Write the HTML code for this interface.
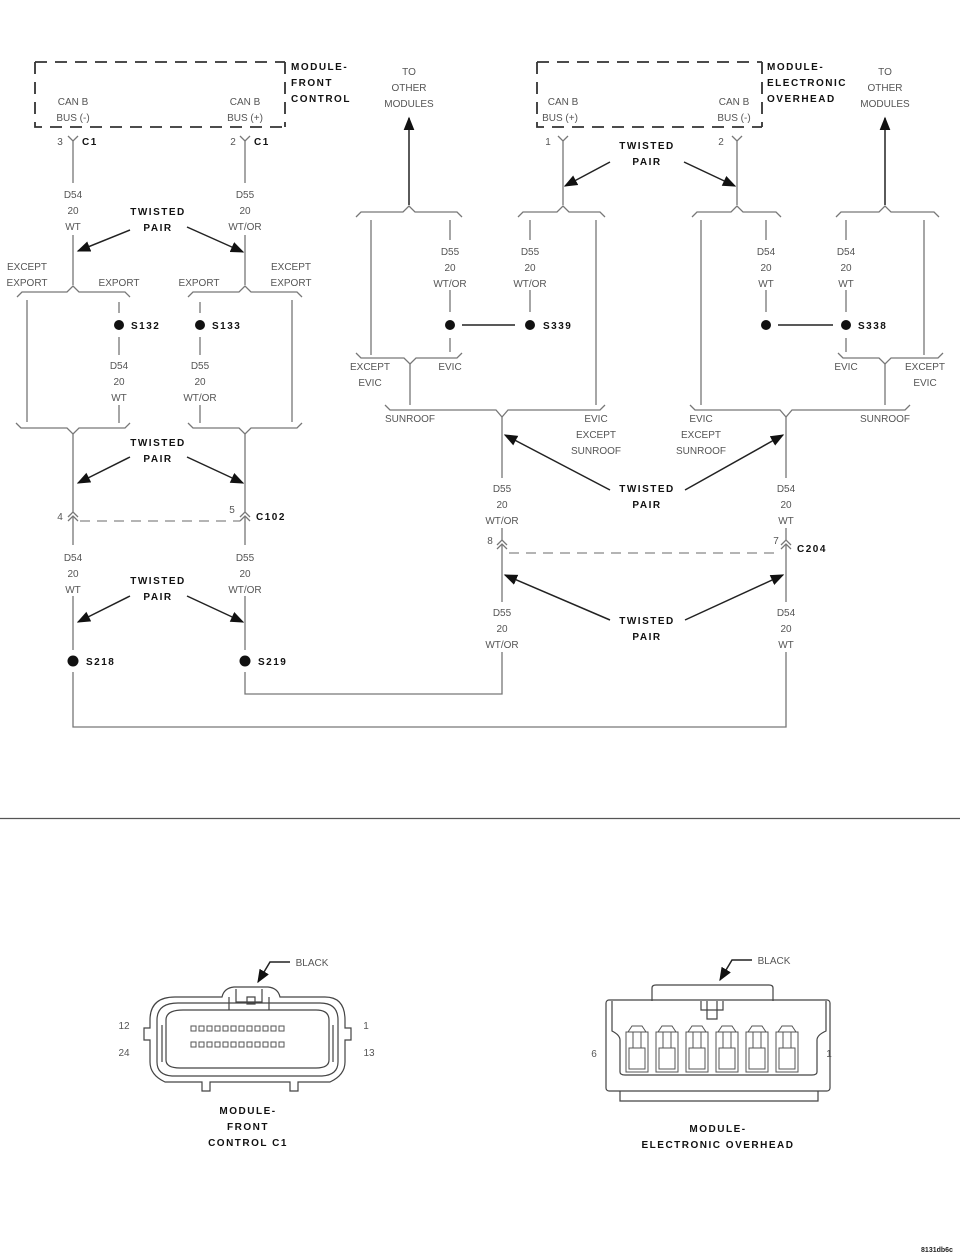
<!DOCTYPE html>
<html><head><meta charset="utf-8"><style>
html,body{margin:0;padding:0;background:#fff}
svg{display:block}
.t{font-family:"Liberation Sans Narrow","Liberation Sans",sans-serif;font-size:10px;fill:#555;text-anchor:middle}
.b{font-family:"Liberation Sans",sans-serif;font-size:10px;font-weight:bold;fill:#111;letter-spacing:1.5px}
.bc{text-anchor:middle}
.w{stroke:#777;stroke-width:1.3;fill:none}
.k{stroke:#222;stroke-width:1.5;fill:none}
.d{stroke:#333;stroke-width:1.8;fill:none;stroke-dasharray:12,8}
.dl{stroke:#888;stroke-width:1.3;fill:none;stroke-dasharray:10,7}
</style></head><body>
<svg width="960" height="1257" viewBox="0 0 960 1257" xmlns="http://www.w3.org/2000/svg">
<defs><marker id="a" viewBox="0 0 10 10" refX="9" refY="5" markerWidth="9" markerHeight="9" orient="auto"><path d="M0,1 L10,5 L0,9 z" fill="#111"/></marker></defs>

<!-- LEFT MODULE -->
<path class="d" d="M35,62 H285 M35,62 V127 H285 M285,62 V127"/>
<text class="b" x="291" y="70">MODULE-</text><text class="b" x="291" y="86">FRONT</text><text class="b" x="291" y="102">CONTROL</text>
<text class="t" x="73" y="105">CAN B</text><text class="t" x="73" y="121">BUS (-)</text>
<text class="t" x="245" y="105">CAN B</text><text class="t" x="245" y="121">BUS (+)</text>
<text class="t" x="60" y="145">3</text><text class="b" x="82" y="145">C1</text>
<text class="t" x="233" y="145">2</text><text class="b" x="254" y="145">C1</text>
<path class="w" d="M68,136 L73,141 L78,136 M240,136 L245,141 L250,136"/>
<path class="w" d="M73,141 V183 M73,235 V285 M245,141 V183 M245,235 V285"/>
<text class="t" x="73" y="198">D54</text><text class="t" x="73" y="214">20</text><text class="t" x="73" y="230">WT</text>
<text class="t" x="245" y="198">D55</text><text class="t" x="245" y="214">20</text><text class="t" x="245" y="230">WT/OR</text>
<text class="b bc" x="158" y="215">TWISTED</text><text class="b bc" x="158" y="231">PAIR</text>
<path class="k" d="M130,230 L78,251" marker-end="url(#a)"/><path class="k" d="M187,227 L243,252" marker-end="url(#a)"/>
<text class="t" x="27" y="270">EXCEPT</text><text class="t" x="27" y="286">EXPORT</text>
<text class="t" x="119" y="286">EXPORT</text><text class="t" x="199" y="286">EXPORT</text>
<text class="t" x="291" y="270">EXCEPT</text><text class="t" x="291" y="286">EXPORT</text>
<path class="w" d="M17,297 L22,292 H67 L73,286 L79,292 H125 L130,297"/>
<path class="w" d="M188,297 L193,292 H239 L245,286 L251,292 H297 L302,297"/>
<path class="w" d="M27,300 V422 M292,300 V422 M119,302 V313 M119,337 V355 M119,405 V423 M200,302 V313 M200,337 V355 M200,405 V423"/>
<circle cx="119" cy="325" r="5" fill="#111"/><circle cx="200" cy="325" r="5" fill="#111"/>
<text class="b" x="131" y="329">S132</text><text class="b" x="212" y="329">S133</text>
<text class="t" x="119" y="369">D54</text><text class="t" x="119" y="385">20</text><text class="t" x="119" y="401">WT</text>
<text class="t" x="200" y="369">D55</text><text class="t" x="200" y="385">20</text><text class="t" x="200" y="401">WT/OR</text>
<path class="w" d="M16,423 L21,428 H67 L73,434 L79,428 H125 L130,423"/>
<path class="w" d="M188,423 L193,428 H239 L245,434 L251,428 H297 L302,423"/>
<text class="b bc" x="158" y="446">TWISTED</text><text class="b bc" x="158" y="462">PAIR</text>
<path class="k" d="M130,457 L78,483" marker-end="url(#a)"/><path class="k" d="M187,457 L243,483" marker-end="url(#a)"/>
<path class="w" d="M73,434 V512 M245,434 V512"/>
<path class="w" d="M68,517 L73,512 L78,517 M68,521 L73,516 L78,521 M240,517 L245,512 L250,517 M240,521 L245,516 L250,521"/>
<text class="t" x="60" y="520">4</text><text class="t" x="232" y="513">5</text><text class="b" x="256" y="520">C102</text>
<path class="dl" d="M80,521 H240"/>
<path class="w" d="M73,516 V545 M73,596 V650 M245,516 V545 M245,596 V650"/>
<text class="t" x="73" y="561">D54</text><text class="t" x="73" y="577">20</text><text class="t" x="73" y="593">WT</text>
<text class="t" x="245" y="561">D55</text><text class="t" x="245" y="577">20</text><text class="t" x="245" y="593">WT/OR</text>
<text class="b bc" x="158" y="584">TWISTED</text><text class="b bc" x="158" y="600">PAIR</text>
<path class="k" d="M130,596 L78,622" marker-end="url(#a)"/><path class="k" d="M187,596 L243,622" marker-end="url(#a)"/>
<circle cx="73" cy="661" r="5.5" fill="#111"/><circle cx="245" cy="661" r="5.5" fill="#111"/>
<text class="b" x="86" y="665">S218</text><text class="b" x="258" y="665">S219</text>
<path class="w" d="M73,672 V727 H786 V652 M245,672 V694 H502 V652"/>

<!-- RIGHT MODULE -->
<path class="d" d="M537,62 H762 M537,62 V127 H762 M762,62 V127"/>
<text class="b" x="767" y="70">MODULE-</text><text class="b" x="767" y="86">ELECTRONIC</text><text class="b" x="767" y="102">OVERHEAD</text>
<text class="t" x="563" y="105">CAN B</text><text class="t" x="560" y="121">BUS (+)</text>
<text class="t" x="734" y="105">CAN B</text><text class="t" x="734" y="121">BUS (-)</text>
<text class="t" x="548" y="145">1</text><text class="t" x="721" y="145">2</text>
<path class="w" d="M558,136 L563,141 L568,136 M732,136 L737,141 L742,136"/>
<path class="w" d="M563,141 V205 M737,141 V205"/>
<text class="b bc" x="647" y="149">TWISTED</text><text class="b bc" x="647" y="165">PAIR</text>
<path class="k" d="M610,162 L565,186" marker-end="url(#a)"/><path class="k" d="M684,162 L735,186" marker-end="url(#a)"/>
<text class="t" x="409" y="75">TO</text><text class="t" x="409" y="91">OTHER</text><text class="t" x="409" y="107">MODULES</text>
<text class="t" x="885" y="75">TO</text><text class="t" x="885" y="91">OTHER</text><text class="t" x="885" y="107">MODULES</text>
<path class="k" d="M409,205 V118" marker-end="url(#a)"/><path class="k" d="M885,205 V118" marker-end="url(#a)"/>
<path class="w" d="M356,217 L361,212 H403 L409,206 L415,212 H457 L462,217"/>
<path class="w" d="M518,217 L523,212 H557 L563,206 L569,212 H600 L605,217"/>
<path class="w" d="M692,217 L697,212 H731 L737,206 L743,212 H776 L781,217"/>
<path class="w" d="M836,217 L841,212 H879 L885,206 L891,212 H934 L939,217"/>
<path class="w" d="M371,220 V355 M596,220 V405 M701,220 V405 M924,220 V355"/>
<path class="w" d="M450,220 V240 M450,290 V312 M450,338 V352 M530,220 V240 M530,290 V312 M766,220 V240 M766,290 V312 M846,220 V240 M846,290 V312 M846,338 V352"/>
<text class="t" x="450" y="255">D55</text><text class="t" x="450" y="271">20</text><text class="t" x="450" y="287">WT/OR</text>
<text class="t" x="530" y="255">D55</text><text class="t" x="530" y="271">20</text><text class="t" x="530" y="287">WT/OR</text>
<text class="t" x="766" y="255">D54</text><text class="t" x="766" y="271">20</text><text class="t" x="766" y="287">WT</text>
<text class="t" x="846" y="255">D54</text><text class="t" x="846" y="271">20</text><text class="t" x="846" y="287">WT</text>
<circle cx="450" cy="325" r="5" fill="#111"/><circle cx="530" cy="325" r="5" fill="#111"/>
<circle cx="766" cy="325" r="5" fill="#111"/><circle cx="846" cy="325" r="5" fill="#111"/>
<path class="k" d="M462,325 H515 M778,325 H833" style="stroke-width:1.5"/>
<text class="b" x="543" y="329">S339</text><text class="b" x="858" y="329">S338</text>
<path class="w" d="M356,353 L361,358 H404 L410,364 L416,358 H457 L462,353"/>
<path class="w" d="M838,353 L843,358 H879 L885,364 L891,358 H938 L943,353"/>
<text class="t" x="370" y="370">EXCEPT</text><text class="t" x="370" y="386">EVIC</text><text class="t" x="450" y="370">EVIC</text>
<text class="t" x="846" y="370">EVIC</text><text class="t" x="925" y="370">EXCEPT</text><text class="t" x="925" y="386">EVIC</text>
<path class="w" d="M410,364 V405 M885,364 V405"/>
<path class="w" d="M385,405 L390,410 H496 L502,417 L508,410 H600 L605,405"/>
<path class="w" d="M690,405 L695,410 H780 L786,417 L792,410 H905 L910,405"/>
<text class="t" x="410" y="422">SUNROOF</text><text class="t" x="885" y="422">SUNROOF</text>
<text class="t" x="596" y="422">EVIC</text><text class="t" x="596" y="438">EXCEPT</text><text class="t" x="596" y="454">SUNROOF</text>
<text class="t" x="701" y="422">EVIC</text><text class="t" x="701" y="438">EXCEPT</text><text class="t" x="701" y="454">SUNROOF</text>
<path class="w" d="M502,417 V478 M786,417 V478 M502,528 V540 M786,528 V540"/>
<text class="b bc" x="647" y="492">TWISTED</text><text class="b bc" x="647" y="508">PAIR</text>
<path class="k" d="M610,490 L505,435" marker-end="url(#a)"/><path class="k" d="M685,490 L783,435" marker-end="url(#a)"/>
<text class="t" x="502" y="492">D55</text><text class="t" x="502" y="508">20</text><text class="t" x="502" y="524">WT/OR</text>
<text class="t" x="786" y="492">D54</text><text class="t" x="786" y="508">20</text><text class="t" x="786" y="524">WT</text>
<path class="w" d="M497,545 L502,540 L507,545 M497,549 L502,544 L507,549 M781,545 L786,540 L791,545 M781,549 L786,544 L791,549"/>
<text class="t" x="490" y="544">8</text><text class="t" x="776" y="544">7</text><text class="b" x="797" y="552">C204</text>
<path class="dl" d="M509,553 H780"/>
<path class="w" d="M502,544 V602 M786,544 V602"/>
<text class="b bc" x="647" y="624">TWISTED</text><text class="b bc" x="647" y="640">PAIR</text>
<path class="k" d="M610,620 L505,575" marker-end="url(#a)"/><path class="k" d="M685,620 L783,575" marker-end="url(#a)"/>
<text class="t" x="502" y="616">D55</text><text class="t" x="502" y="632">20</text><text class="t" x="502" y="648">WT/OR</text>
<text class="t" x="786" y="616">D54</text><text class="t" x="786" y="632">20</text><text class="t" x="786" y="648">WT</text>

<path d="M0,818.5 H960" stroke="#555" stroke-width="1.2"/>

<!-- CONNECTOR 1 -->
<g fill="none" stroke="#444" stroke-width="1.2">
<path d="M175,997 H222 Q224,988 234,987 H268 Q278,988 280,997 H325 Q345,997 345,1020 V1028 H351 V1040 H345 V1062 Q345,1075 330,1082 H298 V1091 H290 V1082 H210 V1091 H202 V1082 H165 Q150,1075 150,1062 V1040 H144 V1028 H150 V1020 Q150,997 175,997 Z"/>
<path d="M178,1003 H320 Q338,1003 338,1020 V1062 Q338,1075 322,1076 H172 Q157,1075 157,1062 V1020 Q157,1003 178,1003 Z"/>
<path d="M183,1010 H316 Q329,1010 329,1020 V1060 Q329,1068 316,1068 H180 Q166,1068 166,1060 V1020 Q166,1010 183,1010 Z"/>
<path d="M229,997 V1010 M269,997 V1010 M236,989 V1002 H262 V989 M247,997 H255 V1004 H247 Z"/>
<path d="M162,1025 V1062 M333,1025 V1062"/>
</g>
<g fill="none" stroke="#555" stroke-width="1">
<path d="M191,1026h5v5h-5zM199,1026h5v5h-5zM207,1026h5v5h-5zM215,1026h5v5h-5zM223,1026h5v5h-5zM231,1026h5v5h-5zM239,1026h5v5h-5zM247,1026h5v5h-5zM255,1026h5v5h-5zM263,1026h5v5h-5zM271,1026h5v5h-5zM279,1026h5v5h-5z"/>
<path d="M191,1042h5v5h-5zM199,1042h5v5h-5zM207,1042h5v5h-5zM215,1042h5v5h-5zM223,1042h5v5h-5zM231,1042h5v5h-5zM239,1042h5v5h-5zM247,1042h5v5h-5zM255,1042h5v5h-5zM263,1042h5v5h-5zM271,1042h5v5h-5zM279,1042h5v5h-5z"/>
</g>
<path class="k" d="M290,962 H270 L258,982" marker-end="url(#a)"/>
<text class="t" x="312" y="966">BLACK</text>
<text class="t" x="124" y="1029">12</text><text class="t" x="124" y="1056">24</text>
<text class="t" x="366" y="1029">1</text><text class="t" x="369" y="1056">13</text>
<text class="b bc" x="248" y="1114">MODULE-</text><text class="b bc" x="248" y="1130">FRONT</text><text class="b bc" x="248" y="1146">CONTROL C1</text>

<!-- CONNECTOR 2 -->
<g fill="none" stroke="#444" stroke-width="1.2">
<path d="M652,1001 V988 Q652,985 656,985 H769 Q773,985 773,988 V1001"/>
<rect x="606" y="1000" width="224" height="91" rx="3"/>
<path d="M612,1001 V1031 Q620,1035 620,1040 V1072 Q620,1075 625,1075 H812 Q817,1075 817,1072 V1040 Q817,1035 826,1031 V1001"/>
<path d="M620,1091 V1101 H818 V1091"/>
<path d="M707,1001 V1019 H717 V1001 M701,1001 V1010 H723 V1001"/>
</g>
<g fill="none" stroke="#555" stroke-width="1">
<path d="M626,1032h22v40h-22zM629,1048h16v21h-16zM628,1032 l4,-6 h10 l4,6 M633,1032v16 M641,1032v16"/>
<path d="M656,1032h22v40h-22zM659,1048h16v21h-16zM658,1032 l4,-6 h10 l4,6 M663,1032v16 M671,1032v16"/>
<path d="M686,1032h22v40h-22zM689,1048h16v21h-16zM688,1032 l4,-6 h10 l4,6 M693,1032v16 M701,1032v16"/>
<path d="M716,1032h22v40h-22zM719,1048h16v21h-16zM718,1032 l4,-6 h10 l4,6 M723,1032v16 M731,1032v16"/>
<path d="M746,1032h22v40h-22zM749,1048h16v21h-16zM748,1032 l4,-6 h10 l4,6 M753,1032v16 M761,1032v16"/>
<path d="M776,1032h22v40h-22zM779,1048h16v21h-16zM778,1032 l4,-6 h10 l4,6 M783,1032v16 M791,1032v16"/>
</g>
<path class="k" d="M752,960 H732 L720,980" marker-end="url(#a)"/>
<text class="t" x="774" y="964">BLACK</text>
<text class="t" x="594" y="1057">6</text><text class="t" x="829" y="1057">1</text>
<text class="b bc" x="718" y="1132">MODULE-</text><text class="b bc" x="718" y="1148">ELECTRONIC OVERHEAD</text>

<text x="937" y="1252" style="font-family:'Liberation Sans',sans-serif;font-size:7px;font-weight:bold;fill:#222;text-anchor:middle">8131db6c</text>
</svg>
</body></html>
